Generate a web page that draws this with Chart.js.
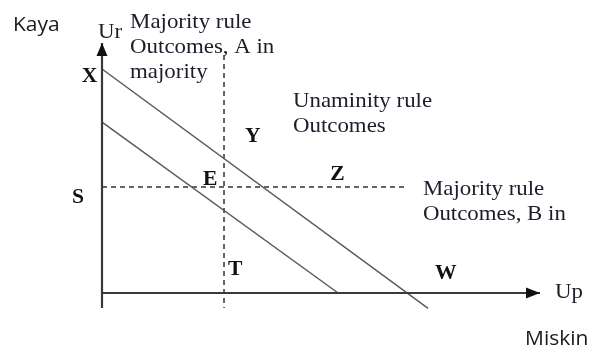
<!DOCTYPE html>
<html>
<head>
<meta charset="utf-8">
<script src="https://cdn.jsdelivr.net/npm/chart.js@4"></script>
<style>
html,body{margin:0;padding:0;background:#fff;}
#c{display:block;}
</style>
</head>
<body>
<canvas id="c" width="594" height="352"></canvas>
<script>
// ---- data (diagram units: origin at the axes' intersection) ----
const outerLine = [{x:0,y:10},{x:10.69,y:-0.69}];
const innerLine = [{x:0,y:7.63},{x:7.74,y:0}];
const verticalDash = [{x:4,y:10.63},{x:4,y:-0.67}];
const horizontalDash = [{x:0,y:4.73},{x:10.03,y:4.73}];
const yAxisLine = [{x:0,y:-0.67},{x:0,y:11.16}];
const xAxisLine = [{x:0,y:0},{x:14.36,y:0}];

const pointLetters = ['X','Y','E','S','T','Z','W'];
const pointLetterPos = [[-0.66,9.42],[4.69,6.74],[3.31,4.82],[-0.98,4.02],[4.13,0.80],[7.48,5.04],[10.92,0.625]];

const serifTexts = [
  ['Ur'],
  ['Majority rule','Outcomes, A in','majority'],
  ['Unaminity rule','Outcomes'],
  ['Majority rule','Outcomes, B in'],
  ['Up']
];
const serifTextPos = [[-0.13,11.38],[0.92,11.83],[6.26,8.30],[10.52,4.375],[14.85,-0.22]];

const sansTexts = ['Kaya','Miskin'];
const sansTextPos = [[-2.92,11.70],[13.87,-2.32]];

const labelPlugin = {
  id:'labels',
  afterDatasetsDraw(chart){
    const ctx = chart.ctx, xs = chart.scales.x, ys = chart.scales.y;
    const px = v=>xs.getPixelForValue(v), py = v=>ys.getPixelForValue(v);
    function drawText(str, x, y, font, color, stretch){
      ctx.save();
      ctx.font = font; ctx.fillStyle = color;
      ctx.textBaseline = 'alphabetic'; ctx.textAlign = 'left';
      ctx.translate(x, y); ctx.scale(stretch, 1);
      ctx.fillText(str, 0, 0);
      ctx.restore();
    }
    // arrowheads
    ctx.save();
    ctx.fillStyle = '#111';
    const yt = yAxisLine[1];
    let tx = px(yt.x), ty = py(yt.y);
    ctx.beginPath(); ctx.moveTo(tx, ty); ctx.lineTo(tx-5.5, ty+13); ctx.lineTo(tx+5.5, ty+13); ctx.closePath(); ctx.fill();
    const xt = xAxisLine[1];
    tx = px(xt.x); ty = py(xt.y);
    ctx.beginPath(); ctx.moveTo(tx, ty); ctx.lineTo(tx-14, ty-5.5); ctx.lineTo(tx-14, ty+5.5); ctx.closePath(); ctx.fill();
    ctx.restore();

    serifTexts.forEach((lines,i)=>{
      const x = px(serifTextPos[i][0]), y = py(serifTextPos[i][1]);
      lines.forEach((l,j)=>drawText(l, x, y + j*25, '22px "Liberation Serif"', '#1c1c2a', 1.04));
    });
    pointLetters.forEach((l,i)=>{
      drawText(l, px(pointLetterPos[i][0]), py(pointLetterPos[i][1]), 'bold 20px "Liberation Serif"', '#111', 1.08);
    });
    sansTexts.forEach((l,i)=>{
      drawText(l, px(sansTextPos[i][0]), py(sansTextPos[i][1]), '20px "Open Sans"', '#1a1a1a', 1.05);
    });
  }
};

function seg(data, color, width, dash){
  return {data, borderColor:color, borderWidth:width, borderDash:dash||[], showLine:true,
          pointRadius:0, pointHoverRadius:0, fill:false, tension:0, clip:false};
}

new Chart(document.getElementById('c'), {
  type:'scatter',
  data:{datasets:[
    seg(yAxisLine,'#3a3a3a',2.2),
    seg(xAxisLine,'#3a3a3a',2.2),
    seg(outerLine,'#5a5a5a',1.5),
    seg(innerLine,'#5a5a5a',1.5),
    seg(verticalDash,'#333',1.5,[5,4]),
    seg(horizontalDash,'#333',1.5,[5,4])
  ]},
  options:{
    responsive:false, animation:false,
    layout:{padding:0},
    plugins:{legend:{display:false}, tooltip:{enabled:false}},
    scales:{
      x:{type:'linear', display:false, min:-3.344, max:16.13},
      y:{type:'linear', display:false, min:-2.634, max:13.08}
    }
  },
  plugins:[labelPlugin]
});
</script>
</body>
</html>
